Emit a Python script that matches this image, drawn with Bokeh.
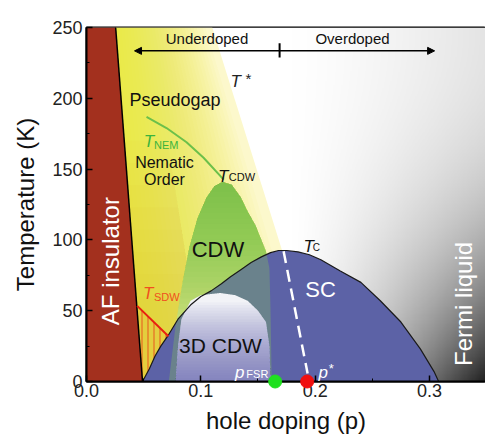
import numpy as np
from bokeh.plotting import figure
from bokeh.models import Label, Arrow, NormalHead, FixedTicker
from bokeh.embed import file_html
from bokeh.resources import INLINE

# ---------------- data ----------------
af_p = [0.0255, 0.049]          # AF-insulator boundary, top -> bottom
af_T = [250, 0]
tstar_p = [0.110, 0.207]        # T* line, top -> bottom
tstar_T = [250, 0]
tnem_p = [0.0525, 0.070, 0.0875, 0.1024, 0.120]
tnem_T = [186.8, 179, 169, 158, 142.6]
cdw_p = [0.072, 0.078, 0.084, 0.090, 0.097, 0.105, 0.112, 0.119, 0.127,
         0.135, 0.141, 0.148, 0.153, 0.157, 0.160, 0.161, 0.162]
cdw_T = [0, 40, 70, 95, 115, 130, 138, 141, 139, 130, 120, 110, 100, 92,
         80, 50, 0]
tc_p = [0.049, 0.055, 0.060, 0.065, 0.071, 0.080, 0.091, 0.100, 0.109,
        0.118, 0.126, 0.135, 0.144, 0.153, 0.161, 0.168, 0.175, 0.185,
        0.195, 0.205, 0.222, 0.240, 0.257, 0.275, 0.292, 0.304, 0.308]
tc_T = [0, 9, 18, 25, 32, 44, 54, 60, 64, 69, 74, 79, 84, 88, 91, 92.5,
        92.5, 91.5, 89.5, 86, 78, 70, 57, 42, 23, 7, 0]
cdw3d_p = [0.078, 0.080, 0.083, 0.091, 0.100, 0.117, 0.130, 0.141, 0.150,
           0.157, 0.160, 0.161]
cdw3d_T = [0, 25, 44, 57, 61, 62.5, 61, 57, 50, 42, 25, 0]
tsdw_p = [0.0443, 0.0717]
tsdw_T = [53.4, 32]
pstar_line_p = [0.1724, 0.1934]
pstar_line_T = [92, 5.6]
dot_p = [0.165, 0.193]          # p_FSR, p*
dot_T = [0, 0]
dot_colors = ["#1fe01f", "#f01010"]
x_ticks = [0.0, 0.1, 0.2, 0.3]
x_tick_labels = ["0.0", "0.1", "0.2", "0.3"]
x_minor = [0.05, 0.15, 0.25]
y_ticks = [0, 50, 100, 150, 200, 250]
y_minor = [25, 75, 125, 175, 225]

FONT = "Liberation Sans"
XMAX, YMAX = 0.349, 250

p = figure(width=485, height=436, x_range=(0, XMAX), y_range=(0, YMAX),
           output_backend="svg", toolbar_location=None,
           min_border_left=86, min_border_right=0, min_border_top=27,
           min_border_bottom=53)
p.grid.visible = False
p.background_fill_color = "white"
p.border_fill_color = "white"
p.outline_line_color = "black"
p.outline_line_width = 2

# ---------------- background (Fermi-liquid grey shading) ----------------
nx, ny = 350, 250
gx = (np.arange(nx) + 0.5) / nx * XMAX
gy = (np.arange(ny) + 0.5) / ny * YMAX
GX, GY = np.meshgrid(gx, gy)
u = np.clip((GX - 0.18) / 0.17, 0, 1)
v = (YMAX - GY) / YMAX
d = u ** 1.3 * (0.12 + 0.88 * v ** 2.5)
g = (255 - 225 * d).astype(np.uint8)
img = np.empty((ny, nx), dtype=np.uint32)
view = img.view(dtype=np.uint8).reshape((ny, nx, 4))
view[:, :, 0] = g
view[:, :, 1] = g
view[:, :, 2] = g
view[:, :, 3] = 255
p.image_rgba(image=[img], x=0, y=0, dw=XMAX, dh=YMAX)

af_top, af_bot = af_p[0], af_p[1]
ts_top, ts_bot = tstar_p[0], tstar_p[1]

# ---------------- pseudogap (yellow, horizontal gradient) ----------------
p.patch([af_top, ts_top, ts_bot, af_bot], [250, 250, 0, 0],
        fill_color="#fcf8cc", line_color=None)
bx, by = [], []
for f in np.linspace(0.03, 0.93, 30):
    qt = af_top + f * (ts_top - af_top)
    qb = af_bot + f * (ts_bot - af_bot)
    bx.append([af_top, qt, qb, af_bot])
    by.append([250, 250, 0, 0])
p.patches(bx, by, fill_color="#f3e020", fill_alpha=0.048, line_color=None)
# golden tint towards low temperature near the AF border
gxs, gys = [], []
for t in np.linspace(60, 170, 8):
    qt = af_bot + (t / 250) * (af_top - af_bot)
    qs = ts_bot + (t / 250) * (ts_top - ts_bot)
    gxs.append([qt, qt + 0.35 * (qs - qt), af_bot + 0.35 * (ts_bot - af_bot), af_bot])
    gys.append([t, t, 0, 0])
p.patches(gxs, gys, fill_color="#dca820", fill_alpha=0.03, line_color=None)

# ---------------- CDW dome (green, vertical gradient) ----------------
cp = np.linspace(cdw_p[0], cdw_p[-1], 500)
cT = np.interp(cp, cdw_p, cdw_T)
p.patch(cp, cT, fill_color="#d0e27c", line_color=None)
cx, cy = [], []
for t in np.linspace(40, 134, 26):
    m = cT > t
    xs = cp[m]
    cx.append(np.concatenate([[xs[0]], xs, [xs[-1]]]))
    cy.append(np.concatenate([[t], cT[m], [t]]))
p.patches(cx, cy, fill_color="#68bb3c", fill_alpha=0.047, line_color=None)

# ---------------- SDW hatched region ----------------
m = np.array(tc_p) < tsdw_p[1]
sx = [tsdw_p[0], tsdw_p[1]] + list(np.array(tc_p)[m][::-1]) + [af_bot]
sy = [tsdw_T[0], tsdw_T[1]] + list(np.array(tc_T)[m][::-1]) + [0]
p.patch(sx, sy, fill_color="#e8c040", fill_alpha=0.35, line_color=None,
        hatch_pattern="|", hatch_color="#e84a1a", hatch_scale=6,
        hatch_weight=1, hatch_alpha=0.9)

# ---------------- SC dome ----------------
p.patch(tc_p, tc_T, fill_color="#5c62a6", line_color=None)

# CDW dome continuing under SC (overlap tint)
oT = np.minimum(cT, np.interp(cp, tc_p, tc_T))
p.patch(np.concatenate([[cp[0]], cp, [cp[-1]]]),
        np.concatenate([[0], oT, [0]]),
        fill_color="#8ccc50", fill_alpha=0.3, line_color=None)

# ---------------- 3D CDW dome (white -> blue) ----------------
dp = np.linspace(cdw3d_p[0], cdw3d_p[-1], 400)
dT = np.interp(dp, cdw3d_p, cdw3d_T)
p.patch(dp, dT, fill_color="#f2f3f7", line_color=None)
dx, dy = [], []
for t in np.linspace(56, 2, 28):
    yy = np.minimum(dT, t)
    dx.append(np.concatenate([[dp[0]], dp, [dp[-1]]]))
    dy.append(np.concatenate([[0], yy, [0]]))
p.patches(dx, dy, fill_color="#5c62a6", fill_alpha=0.036, line_color=None)

# SC outline
p.line(tc_p, tc_T, line_color="#1a1a1a", line_width=1.2)

# ---------------- AF insulator ----------------
p.patch([0, 0, af_top, af_bot], [0, 250, 250, 0], fill_color="#a3301e",
        line_color=None)
p.line(af_p, af_T, line_color="black", line_width=1.5)

# ---------------- lines ----------------
p.line(tnem_p, tnem_T, line_color="#6cc04a", line_width=2)
p.line(tsdw_p, tsdw_T, line_color="#e82010", line_width=2)
p.line(pstar_line_p, pstar_line_T, line_color="white", line_width=2.5,
       line_dash="12 7")
p.scatter(dot_p, dot_T, size=13, color=dot_colors, level="overlay")

# ---------------- doping arrow ----------------
p.add_layout(Arrow(start=NormalHead(size=7, fill_color="black", line_color="black"),
                   end=NormalHead(size=7, fill_color="black", line_color="black"),
                   x_start=0.042, y_start=233.5, x_end=0.3045, y_end=233.5,
                   line_width=1.5, line_color="black"))
p.add_layout(Arrow(end=None, x_start=0.1689, y_start=228.9, x_end=0.1689,
                   y_end=238.8, line_width=2, line_color="black"))


def lab(x, y, text, size, color="#111111", style="normal", align="left",
        baseline="alphabetic", angle=0.0):
    p.add_layout(Label(x=x, y=y, text=text, text_font=FONT,
                       text_font_size=f"{size}px", text_color=color,
                       text_font_style=style, text_align=align,
                       text_baseline=baseline, angle=angle))


lab(0.1054, 242.3, "Underdoped", 15, align="center", baseline="middle")
lab(0.2327, 242.3, "Overdoped", 15, align="center", baseline="middle")
lab(0.126, 212.0, "T", 17, color="#222222", style="italic")
lab(0.139, 214.0, "*", 15, color="#222222")
lab(0.0774, 198.7, "Pseudogap", 18, align="center", baseline="middle")
lab(0.0500, 169.2, "T", 17, color="#3cb43c", style="italic")
lab(0.0590, 167.1, "NEM", 11, color="#3cb43c")
lab(0.0682, 154.8, "Nematic", 16, align="center", baseline="middle")
lab(0.0682, 142.6, "Order", 16, align="center", baseline="middle")
lab(0.1150, 144.7, "T", 17, style="italic")
lab(0.1245, 144.7, "CDW", 11)
lab(0.1150, 93.4, "CDW", 22, align="center", baseline="middle")
lab(0.0495, 61.8, "T", 17, color="#f05020", style="italic")
lab(0.0590, 59.7, "SDW", 11, color="#f05020")
lab(0.1172, 25.6, "3D CDW", 21, align="center", baseline="middle")
lab(0.1300, 6.3, "p", 17, color="white", style="italic")
lab(0.1398, 5.6, "FSR", 11, color="white")
lab(0.2030, 6.3, "p", 17, color="white", style="italic")
lab(0.2118, 9.5, "*", 13, color="white")
lab(0.1899, 95.5, "T", 17, style="italic")
lab(0.1980, 94.8, "C", 10)
lab(0.2047, 65.3, "SC", 22, color="white", align="center", baseline="middle")
lab(0.0210, 85.0, "AF insulator", 24, color="white", align="center",
    baseline="middle", angle=np.pi / 2)
lab(0.3298, 54.8, "Fermi liquid", 24, color="white", align="center",
    baseline="middle", angle=np.pi / 2)

# ---------------- axes ----------------
p.xaxis.ticker = FixedTicker(ticks=x_ticks, minor_ticks=x_minor)
p.xaxis.major_label_overrides = dict(zip(x_ticks, x_tick_labels))
p.yaxis.ticker = FixedTicker(ticks=y_ticks, minor_ticks=y_minor)
p.xaxis.axis_label = "hole doping (p)"
p.yaxis.axis_label = "Temperature (K)"
for ax in (p.xaxis, p.yaxis):
    ax.axis_line_width = 2
    ax.axis_line_color = "black"
    ax.major_tick_in = 6
    ax.major_tick_out = 0
    ax.minor_tick_in = 3
    ax.minor_tick_out = 0
    ax.major_tick_line_width = 1.5
    ax.major_tick_line_color = "black"
    ax.minor_tick_line_color = "black"
    ax.major_label_text_font = FONT
    ax.major_label_text_font_size = "18px"
    ax.major_label_text_color = "#222222"
    ax.axis_label_text_font = FONT
    ax.axis_label_text_font_size = "24px"
    ax.axis_label_text_font_style = "normal"
    ax.axis_label_text_color = "#111111"
p.xaxis.major_label_standoff = 2
p.xaxis.axis_label_standoff = 7
p.yaxis.major_label_standoff = 4
p.yaxis.axis_label_standoff = 10

open("out.html", "w").write(file_html(p, INLINE))
